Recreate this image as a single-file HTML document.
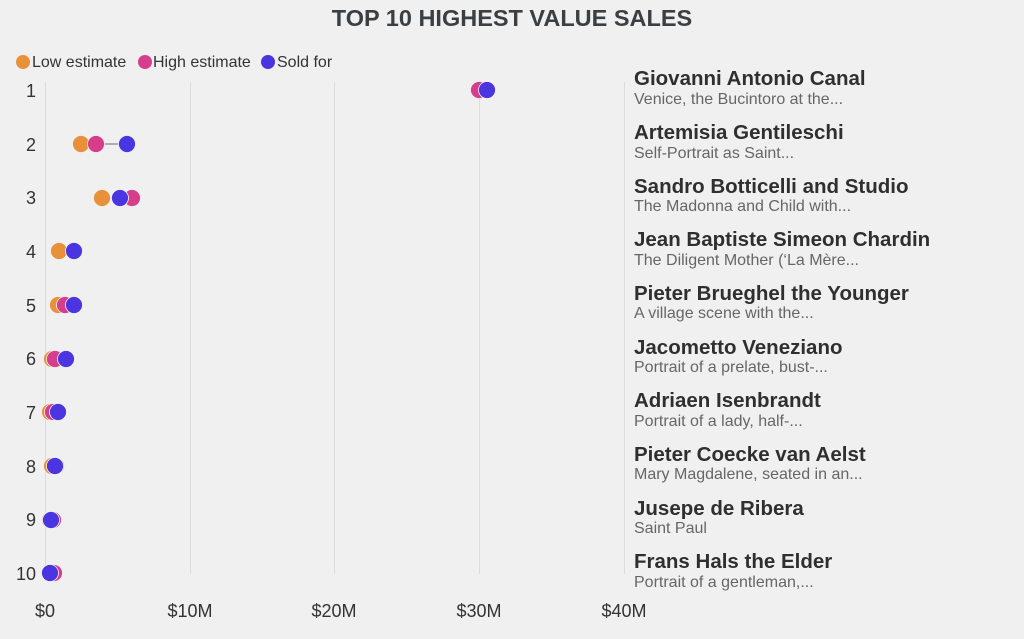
<!DOCTYPE html>
<html><head><meta charset="utf-8"><style>
body{margin:0;width:1024px;height:634px;background:#f0f0f0;font-family:"Liberation Sans",sans-serif;overflow:hidden}
</style></head><body>
<svg width="1024" height="634" xmlns="http://www.w3.org/2000/svg" font-family="Liberation Sans, sans-serif">
<text x="512" y="26" text-anchor="middle" font-size="23.5" font-weight="bold" fill="#3a3f44">TOP 10 HIGHEST VALUE SALES</text>
<g font-size="16" fill="#333">
<circle cx="23" cy="62" r="7" fill="#e8913a"/><text x="32" y="67">Low estimate</text>
<circle cx="145" cy="62" r="7" fill="#d63e8c"/><text x="153" y="67">High estimate</text>
<circle cx="268" cy="62" r="7" fill="#4a35e0"/><text x="277" y="67">Sold for</text>
</g>
<g stroke="#dcdcdc" stroke-width="1">
<line x1="45.5" y1="82" x2="45.5" y2="574"/><line x1="190.5" y1="82" x2="190.5" y2="574"/><line x1="334.5" y1="82" x2="334.5" y2="574"/><line x1="479.5" y1="82" x2="479.5" y2="574"/><line x1="624.5" y1="82" x2="624.5" y2="574"/>
</g>
<g font-size="18" fill="#333" text-anchor="middle">
<text x="45" y="617">$0</text><text x="190" y="617">$10M</text><text x="334" y="617">$20M</text><text x="479" y="617">$30M</text><text x="624" y="617">$40M</text>
</g>
<g font-size="18" fill="#333" text-anchor="end">
<text x="36" y="97">1</text><text x="36" y="151">2</text><text x="36" y="204">3</text><text x="36" y="258">4</text><text x="36" y="312">5</text><text x="36" y="365">6</text><text x="36" y="419">7</text><text x="36" y="473">8</text><text x="36" y="526">9</text><text x="36" y="580">10</text>
</g>
<g stroke="#888" stroke-width="1.2">
<line x1="479" y1="90" x2="487" y2="90"/><line x1="81" y1="144" x2="127" y2="144"/><line x1="102" y1="198" x2="132" y2="198"/><line x1="59" y1="251" x2="74" y2="251"/><line x1="58" y1="305" x2="74" y2="305"/>
</g>
<g stroke="#f0f0f0" stroke-width="0.8">
<g fill="#e8913a">
<circle cx="479" cy="90" r="8.5"/><circle cx="81" cy="144" r="8.5"/><circle cx="102" cy="198" r="8.5"/><circle cx="59" cy="251" r="8.5"/><circle cx="58" cy="305" r="8.5"/><circle cx="52" cy="359" r="8.5"/><circle cx="50" cy="412" r="8.5"/><circle cx="52" cy="466" r="8.5"/><circle cx="50" cy="520" r="8.5"/><circle cx="50" cy="573" r="8.5"/>
</g>
<g fill="#d63e8c">
<circle cx="479" cy="90" r="8.5"/><circle cx="96" cy="144" r="8.5"/><circle cx="132" cy="198" r="8.5"/><circle cx="74" cy="251" r="8.5"/><circle cx="65" cy="305" r="8.5"/><circle cx="55" cy="359" r="8.5"/><circle cx="53" cy="412" r="8.5"/><circle cx="56" cy="466" r="8.5"/><circle cx="53" cy="520" r="8.5"/><circle cx="54" cy="573" r="8.5"/>
</g>
<g fill="#4a35e0">
<circle cx="487" cy="90" r="8.5"/><circle cx="127" cy="144" r="8.5"/><circle cx="120" cy="198" r="8.5"/><circle cx="74" cy="251" r="8.5"/><circle cx="74" cy="305" r="8.5"/><circle cx="66" cy="359" r="8.5"/><circle cx="58" cy="412" r="8.5"/><circle cx="55" cy="466" r="8.5"/><circle cx="51" cy="520" r="8.5"/><circle cx="50" cy="573" r="8.5"/>
</g>
</g>
<g>
<g font-size="20.5" font-weight="bold" fill="#2f2f2f">
<text x="634" y="85">Giovanni Antonio Canal</text><text x="634" y="139">Artemisia Gentileschi</text><text x="634" y="193">Sandro Botticelli and Studio</text><text x="634" y="246">Jean Baptiste Simeon Chardin</text><text x="634" y="300">Pieter Brueghel the Younger</text><text x="634" y="354">Jacometto Veneziano</text><text x="634" y="407">Adriaen Isenbrandt</text><text x="634" y="461">Pieter Coecke van Aelst</text><text x="634" y="515">Jusepe de Ribera</text><text x="634" y="568">Frans Hals the Elder</text>
</g>
<g font-size="16" fill="#666">
<text x="634" y="104">Venice, the Bucintoro at the...</text><text x="634" y="158">Self-Portrait as Saint...</text><text x="634" y="211">The Madonna and Child with...</text><text x="634" y="265">The Diligent Mother (‘La Mère...</text><text x="634" y="318">A village scene with the...</text><text x="634" y="372">Portrait of a prelate, bust-...</text><text x="634" y="426">Portrait of a lady, half-...</text><text x="634" y="479">Mary Magdalene, seated in an...</text><text x="634" y="533">Saint Paul</text><text x="634" y="587">Portrait of a gentleman,...</text>
</g>
</g>
</svg>
</body></html>
